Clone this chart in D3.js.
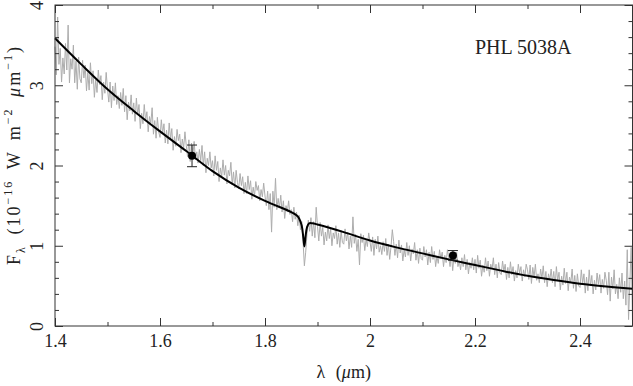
<!DOCTYPE html>
<html lang="en">
<head>
	<meta charset="utf-8">
	<title>PHL 5038A spectrum</title>
	<style type="text/css">
		body { margin: 0; background: white; }
		svg { font-family: "Liberation Serif", "Times New Roman", serif; }
		.axis path { display: none; }
		.axis line { stroke: #333; stroke-width: 1px; }
		.axis text { fill: #222; font-size: 18px; font-family: "Liberation Serif", "Times New Roman", serif; }
		.frame { fill: none; stroke: #333; stroke-width: 1px; }
		.spec { fill: none; stroke: #adadad; stroke-width: 1px; }
		.model { fill: none; stroke: black; stroke-width: 2px; }
		.err { stroke: #222; stroke-width: 1px; }
		.lbl { fill: #222; }
	</style>
	<script src="https://cdn.jsdelivr.net/npm/d3@7"></script>
</head>
<body>
	<script>
		// observed spectrum: flux every 0.0025 um from 1.400 to 2.500 (one row per 0.05 um)
		var specStart = 1.4, specStep = 0.0025;
		var specFlux = [
			3.48, 3.13, 3.85, 3.26, 3.46, 3.04, 3.34, 3.14, 3.52, 3.19, 3.75, 3.03, 3.33, 3.20, 3.50, 3.03, 3.30, 2.95, 3.35, 3.08,
			3.03, 3.31, 3.09, 3.25, 2.93, 3.16, 2.94, 3.28, 3.02, 3.18, 2.85, 3.07, 2.91, 3.19, 3.01, 3.12, 2.82, 3.04, 2.90, 3.16,
			2.95, 2.79, 3.04, 2.72, 2.99, 2.81, 3.03, 2.76, 2.87, 2.71, 2.91, 2.75, 2.96, 2.67, 2.87, 2.57, 2.79, 2.68, 2.88, 2.64,
			2.78, 2.55, 2.84, 2.63, 2.76, 2.46, 2.65, 2.52, 2.76, 2.56, 2.67, 2.42, 2.61, 2.53, 2.72, 2.39, 2.56, 2.34, 2.60, 2.42,
			2.35, 2.57, 2.40, 2.52, 2.28, 2.44, 2.27, 2.53, 2.33, 2.46, 2.19, 2.36, 2.24, 2.45, 2.31, 2.39, 2.16, 2.33, 2.22, 2.42,
			2.25, 2.11, 2.32, 2.05, 2.28, 2.12, 2.30, 2.07, 2.17, 2.03, 2.20, 2.06, 2.25, 2.00, 2.17, 1.91, 2.09, 2.00, 2.17, 1.97,
			2.06, 1.87, 2.12, 1.94, 2.05, 1.80, 1.97, 1.86, 2.07, 1.88, 2.00, 1.77, 1.94, 1.87, 2.04, 1.76, 1.92, 1.72, 1.94, 1.79,
			1.71, 1.90, 1.75, 1.86, 1.65, 1.79, 1.65, 1.87, 1.70, 1.81, 1.58, 1.73, 1.62, 1.80, 1.69, 1.75, 1.56, 1.70, 1.61, 1.78,
			1.62, 1.50, 1.68, 1.45, 1.65, 1.17, 1.68, 1.48, 1.84, 1.45, 1.59, 1.47, 1.63, 1.42, 1.56, 1.34, 1.50, 1.42, 1.56, 1.39,
			1.45, 1.30, 1.48, 1.33, 1.42, 1.25, 1.38, 1.20, 1.30, 1.05, 0.75, 0.92, 1.15, 1.32, 1.18, 1.35, 1.12, 1.30, 1.10, 1.48,
			1.24, 1.06, 1.29, 1.12, 1.23, 1.01, 1.17, 1.06, 1.26, 1.09, 1.21, 1.00, 1.16, 1.09, 1.25, 1.02, 1.16, 0.98, 1.19, 1.04,
			1.02, 1.21, 1.06, 1.17, 0.96, 1.12, 0.98, 1.36, 1.03, 1.14, 0.93, 1.08, 0.76, 1.15, 1.04, 1.13, 0.94, 1.08, 0.99, 1.16,
			1.05, 0.93, 1.11, 0.88, 1.08, 0.96, 1.12, 0.92, 1.00, 0.89, 1.05, 0.93, 1.09, 0.88, 1.02, 0.83, 0.99, 1.20, 1.05, 0.88,
			1.02, 0.85, 1.07, 0.91, 1.01, 0.81, 0.95, 0.86, 1.04, 0.88, 1.00, 0.81, 0.96, 0.90, 1.04, 0.82, 0.95, 0.78, 0.97, 0.84,
			0.82, 0.99, 0.86, 0.95, 0.76, 0.92, 0.79, 0.99, 0.83, 0.93, 0.74, 0.87, 0.78, 0.95, 0.84, 0.92, 0.74, 0.88, 0.79, 0.95,
			0.85, 0.74, 0.91, 0.69, 0.87, 0.78, 0.92, 0.74, 0.81, 0.70, 0.85, 0.74, 0.89, 0.70, 0.83, 0.65, 0.79, 0.72, 0.85, 0.70,
			0.83, 0.66, 0.88, 0.72, 0.82, 0.62, 0.76, 0.67, 0.85, 0.69, 0.81, 0.62, 0.77, 0.71, 0.85, 0.64, 0.77, 0.60, 0.79, 0.66,
			0.64, 0.81, 0.68, 0.77, 0.58, 0.73, 0.60, 0.80, 0.64, 0.74, 0.56, 0.69, 0.60, 0.77, 0.66, 0.74, 0.56, 0.70, 0.61, 0.77,
			0.70, 0.58, 0.76, 0.53, 0.73, 0.61, 0.77, 0.57, 0.65, 0.54, 0.71, 0.59, 0.75, 0.54, 0.68, 0.49, 0.65, 0.57, 0.71, 0.54,
			0.68, 0.49, 0.74, 0.56, 0.67, 0.45, 0.62, 0.51, 0.72, 0.53, 0.67, 0.44, 0.61, 0.54, 0.71, 0.47, 0.63, 0.43, 0.65, 0.50,
			0.48, 0.70, 0.53, 0.65, 0.41, 0.61, 0.44, 0.70, 0.50, 0.63, 0.40, 0.57, 0.45, 0.66, 0.52, 0.64, 0.41, 0.58, 0.47, 0.67,
			0.57, 0.39, 0.67, 0.31, 0.61, 0.46, 0.70, 0.40, 0.52, 0.34, 0.60, 0.42, 0.66, 0.34, 0.56, 0.26, 0.95, 0.08, 0.55, 0.98,
			0.05
		];

		// model fit
		var modelLam  = [1.40, 1.45, 1.50, 1.55, 1.60, 1.65, 1.70, 1.75, 1.80, 1.85, 1.86, 1.865, 1.87, 1.873, 1.875, 1.877, 1.88, 1.884, 1.89, 1.90, 1.95, 2.00, 2.05, 2.10, 2.15, 2.20, 2.25, 2.30, 2.35, 2.40, 2.45, 2.50];
		var modelFlux = [3.585, 3.26, 2.95, 2.68, 2.425, 2.18, 1.93, 1.725, 1.56, 1.42, 1.38, 1.34, 1.25, 1.10, 0.99, 1.10, 1.23, 1.28, 1.28, 1.265, 1.17, 1.065, 0.98, 0.905, 0.83, 0.76, 0.69, 0.625, 0.572, 0.527, 0.493, 0.465];

		// photometry with errors
		var photLam  = [1.661, 2.158];
		var photFlux = [2.12, 0.88];
		var photErr  = [0.135, 0.06];

		var xTicks = [1.4, 1.6, 1.8, 2.0, 2.2, 2.4];
		var xLabels = ["1.4", "1.6", "1.8", "2", "2.2", "2.4"];
		var yTicks = [0, 1, 2, 3, 4];

		var width = 633, height = 386;
		var mLeft = 55, mRight = 632.5, mTop = 5, mBottom = 326;

		var x = d3.scaleLinear().domain([1.4, 2.5]).range([mLeft, mRight]);
		var y = d3.scaleLinear().domain([0, 4]).range([mBottom, mTop]);

		var svg = d3.select("body").append("svg")
			.attr("width", width)
			.attr("height", height);

		// spectrum
		var spec = specFlux.map(function(f, i){ return [specStart + i * specStep, f]; });
		svg.append("path")
			.datum(spec)
			.attr("class", "spec")
			.attr("d", d3.line()
				.x(function(d){ return x(d[0]); })
				.y(function(d){ return y(d[1]); }));

		// model
		svg.append("path")
			.datum(modelLam.map(function(l, i){ return [l, modelFlux[i]]; }))
			.attr("class", "model")
			.attr("d", d3.line()
				.curve(d3.curveCatmullRom.alpha(0.5))
				.x(function(d){ return x(d[0]); })
				.y(function(d){ return y(d[1]); }));

		// photometric points
		var phot = photLam.map(function(l, i){ return {l: l, f: photFlux[i], e: photErr[i]}; });
		var pg = svg.selectAll(".phot").data(phot).enter().append("g").attr("class", "phot");
		pg.append("line").attr("class", "err")
			.attr("x1", function(d){ return x(d.l); }).attr("x2", function(d){ return x(d.l); })
			.attr("y1", function(d){ return y(d.f - d.e); }).attr("y2", function(d){ return y(d.f + d.e); });
		pg.append("line").attr("class", "err")
			.attr("x1", function(d){ return x(d.l) - 5; }).attr("x2", function(d){ return x(d.l) + 5; })
			.attr("y1", function(d){ return y(d.f + d.e); }).attr("y2", function(d){ return y(d.f + d.e); });
		pg.append("line").attr("class", "err")
			.attr("x1", function(d){ return x(d.l) - 5; }).attr("x2", function(d){ return x(d.l) + 5; })
			.attr("y1", function(d){ return y(d.f - d.e); }).attr("y2", function(d){ return y(d.f - d.e); });
		pg.append("circle")
			.attr("cx", function(d){ return x(d.l); })
			.attr("cy", function(d){ return y(d.f); })
			.attr("r", 4)
			.attr("fill", "black");

		// axes, ticks inward on all four sides
		var xMinor = d3.range(14, 26).map(function(v){ return v / 10; }).filter(function(v){ return xTicks.indexOf(v) < 0; });
		var yMinor = d3.range(0, 21).map(function(v){ return v / 5; }).filter(function(v){ return v % 1 !== 0; });

		svg.append("g").attr("class", "x axis")
			.attr("transform", "translate(0," + mBottom + ")")
			.call(d3.axisBottom(x).tickValues(xTicks).tickSizeInner(-8).tickSizeOuter(0).tickPadding(8)
				.tickFormat(function(d, i){ return xLabels[i]; }));
		svg.append("g").attr("class", "axis")
			.attr("transform", "translate(0," + mBottom + ")")
			.call(d3.axisBottom(x).tickValues(xMinor).tickSizeInner(-4).tickSizeOuter(0).tickFormat(""));
		svg.append("g").attr("class", "axis")
			.attr("transform", "translate(0," + mTop + ")")
			.call(d3.axisTop(x).tickValues(xTicks).tickSizeInner(-8).tickSizeOuter(0).tickFormat(""));
		svg.append("g").attr("class", "axis")
			.attr("transform", "translate(0," + mTop + ")")
			.call(d3.axisTop(x).tickValues(xMinor).tickSizeInner(-4).tickSizeOuter(0).tickFormat(""));

		var ya = svg.append("g").attr("class", "y axis")
			.attr("transform", "translate(" + mLeft + ",0)")
			.call(d3.axisLeft(y).tickValues(yTicks).tickSizeInner(-8).tickSizeOuter(0).tickFormat(d3.format("d")));
		ya.selectAll("text")
			.attr("transform", "rotate(-90)")
			.attr("x", 0)
			.attr("y", -12)
			.attr("dy", 0)
			.attr("text-anchor", "middle");
		svg.append("g").attr("class", "axis")
			.attr("transform", "translate(" + mLeft + ",0)")
			.call(d3.axisLeft(y).tickValues(yMinor).tickSizeInner(-4).tickSizeOuter(0).tickFormat(""));
		svg.append("g").attr("class", "axis")
			.attr("transform", "translate(" + mRight + ",0)")
			.call(d3.axisRight(y).tickValues(yTicks).tickSizeInner(-8).tickSizeOuter(0).tickFormat(""));
		svg.append("g").attr("class", "axis")
			.attr("transform", "translate(" + mRight + ",0)")
			.call(d3.axisRight(y).tickValues(yMinor).tickSizeInner(-4).tickSizeOuter(0).tickFormat(""));

		svg.append("rect").attr("class", "frame")
			.attr("x", mLeft).attr("y", mTop)
			.attr("width", mRight - mLeft).attr("height", mBottom - mTop);

		// labels
		svg.append("text").attr("class", "lbl")
			.attr("x", (mLeft + mRight) / 2)
			.attr("y", 378)
			.attr("text-anchor", "middle")
			.style("font-size", "18px")
			.style("word-spacing", "6px")
			.html("λ (<tspan font-style=\"italic\">μ</tspan>m)");

		var yl = svg.append("text").attr("class", "lbl")
			.attr("transform", "translate(20,155) rotate(-90)")
			.attr("text-anchor", "middle")
			.style("font-size", "18px")
			.style("letter-spacing", "2px")
			.style("word-spacing", "4px");
		yl.append("tspan").text("F");
		yl.append("tspan").attr("dy", 5).style("font-size", "12px").text("λ");
		yl.append("tspan").attr("dy", -5).text(" (10");
		yl.append("tspan").attr("dy", -8).style("font-size", "12px").text("−16");
		yl.append("tspan").attr("dy", 8).text(" W m");
		yl.append("tspan").attr("dy", -8).style("font-size", "12px").text("−2");
		yl.append("tspan").attr("dy", 8).text(" ");
		yl.append("tspan").style("font-style", "italic").text("μ");
		yl.append("tspan").text("m");
		yl.append("tspan").attr("dy", -8).style("font-size", "12px").text("−1");
		yl.append("tspan").attr("dy", 8).text(")");

		svg.append("text").attr("class", "lbl")
			.attr("x", 475)
			.attr("y", 54)
			.style("font-size", "20px")
			.text("PHL 5038A");
	</script>
</body>
</html>
